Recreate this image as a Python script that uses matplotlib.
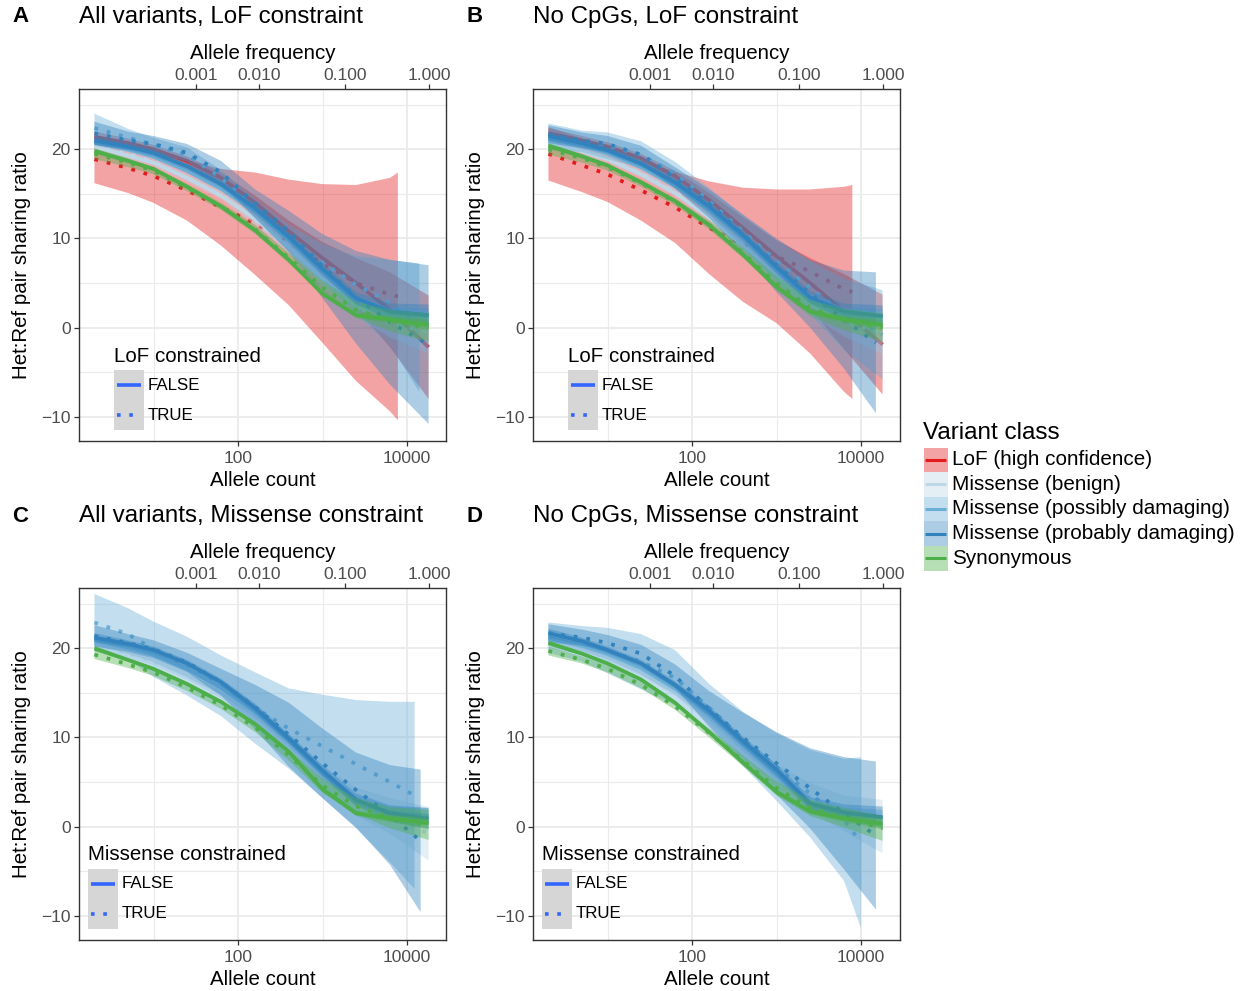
import numpy as np
import matplotlib
matplotlib.use("Agg")
import matplotlib.pyplot as plt
from matplotlib.patches import Rectangle
from matplotlib.ticker import NullFormatter, FixedLocator

plt.rcParams['font.family'] = ['Liberation Sans', 'DejaVu Sans']

W, H = 1245, 991

# ---------------- data ----------------
ALLELE_COUNT = [2, 5, 10, 25, 63, 160, 400, 1000, 2500, 6300, 18000]
FREQ_TICK_AC = [31.6, 179, 1845, 18360]
FREQ_LABELS = ['0.001', '0.010', '0.100', '1.000']
COUNT_TICKS = [100, 10000]
COUNT_LABELS = ['100', '10000']
COUNT_MINOR = [10, 1000]
RATIO_TICKS = [-10, 0, 10, 20]
RATIO_LABELS = ['\u221210', '0', '10', '20']
RATIO_MINOR = [-5, 5, 15, 25]

CLASSES = ['LoF (high confidence)', 'Missense (benign)', 'Missense (possibly damaging)',
           'Missense (probably damaging)', 'Synonymous']
CLASS_COLORS = ['#E41A1C', '#BDD7E7', '#6BAED6', '#3182BD', '#4DAF4A']

# Panel A : All variants, LoF constraint
A_LOF_F = [21.4, 20.7, 20.0, 18.7, 16.8, 14.0, 10.8, 7.8, 5.0, 2.0, -2.2]
A_LOF_F_SE = [0.6, 0.5, 0.5, 0.5, 0.6, 0.8, 1.2, 1.8, 2.8, 4.2, 5.8]
A_LOF_T = [18.9, 17.9, 17.0, 15.4, 13.5, 11.65, 9.55, 7.2, 5.0, 3.7, 3.5]
A_LOF_T_SE = [2.7, 2.8, 3.0, 3.4, 4.3, 5.75, 7.05, 8.9, 11.0, 13.1, 13.9]
A_BEN_F = [20.3, 19.3, 18.5, 16.8, 14.8, 12.2, 9.0, 5.4, 2.4, 1.4, 1.1]
A_BEN_F_SE = [0.3, 0.25, 0.2, 0.2, 0.2, 0.2, 0.2, 0.3, 0.3, 0.4, 0.6]
A_BEN_T = [20.4, 19.5, 18.6, 16.8, 14.9, 12.1, 8.9, 5.5, 2.4, 0.5, -0.5]
A_BEN_T_SE = [0.8, 0.6, 0.5, 0.5, 0.5, 0.6, 0.7, 0.9, 1.2, 1.6, 2.4]
A_POS_F = [20.8, 20.0, 19.2, 17.6, 15.6, 13.0, 9.8, 6.2, 3.0, 1.6, 1.3]
A_POS_F_SE = [0.4, 0.3, 0.3, 0.3, 0.3, 0.3, 0.3, 0.4, 0.5, 0.6, 0.9]
A_POS_T = [22.4, 21.3, 20.5, 19.4, 16.8, 13.3, 10.0, 7.3, 4.8, 2.8, 0.0]
A_POS_T_SE = [1.6, 1.0, 0.8, 0.8, 0.9, 1.1, 1.5, 2.1, 3.2, 4.8, 7.2]
A_PRO_F = [21.0, 20.3, 19.6, 18.1, 16.1, 13.4, 10.2, 6.6, 3.3, 1.8, 1.4]
A_PRO_F_SE = [0.5, 0.4, 0.4, 0.4, 0.4, 0.5, 0.5, 0.6, 0.7, 0.9, 1.2]
A_PRO_T = [21.8, 21.0, 20.6, 19.6, 17.4, 13.9, 10.8, 6.9, 3.4, 0.6, -1.9]
A_PRO_T_SE = [1.3, 1.0, 0.9, 1.0, 1.3, 1.6, 2.3, 3.6, 5.2, 7.0, 8.9]
A_SYN_F = [19.8, 18.7, 17.8, 15.8, 13.6, 10.9, 7.6, 3.8, 1.4, 0.9, 0.3]
A_SYN_F_SE = [0.3, 0.2, 0.2, 0.2, 0.2, 0.2, 0.25, 0.3, 0.3, 0.4, 0.6]
A_SYN_T = [19.5, 18.5, 17.6, 15.7, 13.6, 11.0, 7.8, 4.5, 2.0, 0.8, 0.0]
A_SYN_T_SE = [0.6, 0.5, 0.4, 0.4, 0.4, 0.5, 0.6, 0.8, 0.9, 1.2, 1.6]
A_END = [18000, 7800, 18000, 18000, 18000, 14000, 18000, 18000, 18000, 18000]

# Panel B : No CpGs, LoF constraint
B_LOF_F = [21.8, 21.0, 20.3, 19.0, 17.0, 14.3, 11.2, 8.0, 5.0, 1.8, -1.9]
B_LOF_F_SE = [0.6, 0.5, 0.5, 0.5, 0.6, 0.8, 1.2, 1.8, 2.8, 4.2, 5.6]
B_LOF_T = [19.5, 18.2, 17.2, 15.4, 13.5, 11.2, 9.3, 8.0, 6.3, 4.3, 4.0]
B_LOF_T_SE = [3.0, 3.0, 3.1, 3.4, 4.0, 5.2, 6.4, 7.5, 9.2, 11.5, 12.0]
B_BEN_F = [20.8, 19.8, 18.9, 17.2, 15.1, 12.4, 9.2, 5.6, 2.5, 1.4, 1.0]
B_BEN_F_SE = [0.3, 0.25, 0.2, 0.2, 0.2, 0.2, 0.2, 0.3, 0.3, 0.4, 0.6]
B_BEN_T = [20.9, 19.9, 19.0, 17.3, 15.2, 12.4, 9.0, 5.6, 2.6, 0.6, -0.6]
B_BEN_T_SE = [0.8, 0.6, 0.5, 0.5, 0.5, 0.6, 0.7, 0.9, 1.2, 1.6, 2.4]
B_POS_F = [21.2, 20.4, 19.6, 18.0, 15.9, 13.2, 10.0, 6.4, 3.1, 1.6, 1.2]
B_POS_F_SE = [0.4, 0.3, 0.3, 0.3, 0.3, 0.3, 0.3, 0.4, 0.5, 0.6, 0.9]
B_POS_T = [21.4, 20.9, 20.4, 19.4, 17.3, 14.2, 10.8, 7.5, 4.5, 1.5, -0.8]
B_POS_T_SE = [1.5, 1.2, 1.5, 1.5, 1.3, 1.5, 1.8, 2.3, 3.0, 4.0, 5.0]
B_PRO_F = [21.5, 20.7, 19.9, 18.4, 16.3, 13.6, 10.4, 6.8, 3.4, 1.8, 1.3]
B_PRO_F_SE = [0.5, 0.4, 0.4, 0.4, 0.4, 0.5, 0.5, 0.6, 0.7, 0.9, 1.2]
B_PRO_T = [21.7, 21.0, 20.6, 19.4, 16.8, 13.9, 10.5, 7.0, 3.8, 0.9, -1.7]
B_PRO_T_SE = [1.0, 0.9, 0.9, 1.0, 1.2, 1.6, 2.2, 3.0, 3.8, 5.5, 7.9]
B_SYN_F = [20.4, 19.2, 18.2, 16.3, 14.2, 11.5, 8.2, 4.6, 1.8, 0.9, 0.3]
B_SYN_F_SE = [0.3, 0.2, 0.2, 0.2, 0.2, 0.2, 0.25, 0.3, 0.3, 0.4, 0.6]
B_SYN_T = [20.0, 19.0, 18.0, 16.2, 14.1, 11.5, 8.4, 5.0, 2.2, 0.9, 0.0]
B_SYN_T_SE = [0.6, 0.5, 0.4, 0.4, 0.4, 0.5, 0.6, 0.8, 0.9, 1.2, 1.6]
B_END = [18000, 7900, 18000, 18000, 18000, 18000, 18000, 15000, 18000, 18000]

# Panel C : All variants, Missense constraint
C_BEN_F = [20.6, 19.6, 18.7, 17.0, 15.0, 12.5, 9.3, 5.6, 2.6, 1.6, 1.2]
C_BEN_F_SE = [0.3, 0.25, 0.2, 0.2, 0.2, 0.2, 0.2, 0.3, 0.3, 0.4, 0.6]
C_BEN_T = [20.5, 19.5, 18.6, 17.0, 15.0, 12.5, 9.3, 5.5, 2.8, 1.2, -0.8]
C_BEN_T_SE = [0.8, 0.6, 0.5, 0.5, 0.6, 0.8, 1.0, 1.3, 1.6, 2.0, 3.0]
C_POS_F = [21.0, 20.1, 19.3, 17.7, 15.6, 12.9, 9.6, 6.0, 2.9, 1.6, 1.2]
C_POS_F_SE = [0.4, 0.3, 0.3, 0.3, 0.3, 0.3, 0.3, 0.4, 0.5, 0.6, 0.9]
C_POS_T = [22.9, 21.6, 19.9, 18.0, 15.8, 13.3, 11.0, 9.0, 7.0, 5.0, 3.5]
C_POS_T_SE = [3.2, 2.9, 3.1, 3.3, 3.4, 4.0, 4.5, 5.8, 7.2, 9.0, 10.5]
C_PRO_F = [21.2, 20.5, 19.8, 18.3, 16.2, 13.3, 9.9, 6.3, 3.0, 1.5, 0.9]
C_PRO_F_SE = [0.5, 0.4, 0.4, 0.4, 0.4, 0.5, 0.5, 0.6, 0.7, 0.9, 1.2]
C_PRO_T = [21.4, 20.6, 19.9, 18.4, 16.2, 13.4, 10.3, 7.1, 4.1, 1.3, -1.6]
C_PRO_T_SE = [1.2, 1.0, 1.0, 1.1, 1.5, 2.5, 3.6, 3.9, 4.2, 5.6, 8.0]
C_SYN_F = [20.0, 18.7, 17.7, 16.0, 14.0, 11.5, 8.4, 4.2, 1.5, 0.9, 0.4]
C_SYN_F_SE = [0.3, 0.2, 0.2, 0.2, 0.2, 0.2, 0.25, 0.3, 0.3, 0.4, 0.6]
C_SYN_T = [19.3, 18.2, 17.3, 15.6, 13.6, 11.1, 8.0, 4.6, 2.3, 1.0, 0.2]
C_SYN_T_SE = [0.5, 0.4, 0.4, 0.4, 0.4, 0.5, 0.6, 0.8, 0.9, 1.2, 1.7]
C_END = [18000, 18000, 18000, 12300, 18000, 14500, 18000, 18000]

# Panel D : No CpGs, Missense constraint
D_BEN_F = [20.9, 19.9, 19.0, 17.3, 15.1, 12.2, 8.8, 5.5, 2.2, 1.4, 1.0]
D_BEN_F_SE = [0.3, 0.25, 0.2, 0.2, 0.2, 0.2, 0.2, 0.3, 0.3, 0.4, 0.6]
D_BEN_T = [20.8, 19.9, 19.0, 17.4, 15.3, 12.3, 8.7, 5.75, 3.3, 1.5, 0.0]
D_BEN_T_SE = [0.8, 0.6, 0.5, 0.5, 0.6, 0.8, 1.0, 1.3, 1.6, 2.0, 3.0]
D_POS_F = [21.2, 20.3, 19.4, 17.8, 15.5, 12.6, 9.2, 5.9, 2.4, 1.5, 1.0]
D_POS_F_SE = [0.4, 0.3, 0.3, 0.3, 0.3, 0.3, 0.3, 0.4, 0.5, 0.6, 0.9]
D_POS_T = [21.2, 20.5, 19.75, 18.5, 16.7, 13.35, 9.85, 6.7, 3.7, 0.75, -1.8]
D_POS_T_SE = [1.7, 2.0, 2.55, 3.1, 3.1, 2.65, 3.05, 3.8, 4.9, 6.85, 9.6]
D_PRO_F = [21.7, 20.8, 19.8, 18.3, 15.9, 13.0, 9.6, 6.4, 2.6, 1.6, 1.05]
D_PRO_F_SE = [0.5, 0.4, 0.4, 0.4, 0.4, 0.5, 0.5, 0.6, 0.7, 0.9, 1.2]
D_PRO_T = [21.7, 21.2, 20.6, 19.4, 16.9, 13.2, 10.0, 7.1, 4.3, 1.5, -1.0]
D_PRO_T_SE = [1.0, 0.9, 0.9, 1.0, 1.3, 2.0, 2.8, 3.5, 4.5, 6.3, 8.3]
D_SYN_F = [20.6, 19.4, 18.3, 16.5, 13.9, 10.6, 7.2, 3.9, 1.7, 0.9, 0.3]
D_SYN_F_SE = [0.3, 0.2, 0.2, 0.2, 0.2, 0.2, 0.25, 0.3, 0.3, 0.4, 0.6]
D_SYN_T = [19.7, 18.7, 17.7, 15.9, 13.5, 10.5, 7.4, 4.3, 2.1, 1.0, -0.2]
D_SYN_T_SE = [0.5, 0.4, 0.4, 0.4, 0.4, 0.5, 0.6, 0.8, 0.9, 1.1, 1.4]
D_END = [18000, 18000, 18000, 10000, 18000, 15000, 18000, 18000]

PANEL_LETTERS = ['A', 'B', 'C', 'D']
PANEL_TITLES = ['All variants, LoF constraint', 'No CpGs, LoF constraint',
                'All variants, Missense constraint', 'No CpGs, Missense constraint']
LEGEND_TITLES = ['LoF constrained', 'LoF constrained',
                 'Missense constrained', 'Missense constrained']
CONSTRAINED_LEVELS = ['FALSE', 'TRUE']

# ---------------- build series ----------------
def series_list(means, ses, ends, classes):
    out = []
    for i, (m, s) in enumerate(zip(means, ses)):
        out.append((classes[i // 2], i % 2 == 1, m, s, ends[i]))
    return out

PANEL_SERIES = [
    series_list([A_LOF_F, A_LOF_T, A_BEN_F, A_BEN_T, A_POS_F, A_POS_T, A_PRO_F, A_PRO_T, A_SYN_F, A_SYN_T],
                [A_LOF_F_SE, A_LOF_T_SE, A_BEN_F_SE, A_BEN_T_SE, A_POS_F_SE, A_POS_T_SE, A_PRO_F_SE, A_PRO_T_SE, A_SYN_F_SE, A_SYN_T_SE],
                A_END, [0, 1, 2, 3, 4]),
    series_list([B_LOF_F, B_LOF_T, B_BEN_F, B_BEN_T, B_POS_F, B_POS_T, B_PRO_F, B_PRO_T, B_SYN_F, B_SYN_T],
                [B_LOF_F_SE, B_LOF_T_SE, B_BEN_F_SE, B_BEN_T_SE, B_POS_F_SE, B_POS_T_SE, B_PRO_F_SE, B_PRO_T_SE, B_SYN_F_SE, B_SYN_T_SE],
                B_END, [0, 1, 2, 3, 4]),
    series_list([C_BEN_F, C_BEN_T, C_POS_F, C_POS_T, C_PRO_F, C_PRO_T, C_SYN_F, C_SYN_T],
                [C_BEN_F_SE, C_BEN_T_SE, C_POS_F_SE, C_POS_T_SE, C_PRO_F_SE, C_PRO_T_SE, C_SYN_F_SE, C_SYN_T_SE],
                C_END, [1, 2, 3, 4]),
    series_list([D_BEN_F, D_BEN_T, D_POS_F, D_POS_T, D_PRO_F, D_PRO_T, D_SYN_F, D_SYN_T],
                [D_BEN_F_SE, D_BEN_T_SE, D_POS_F_SE, D_POS_T_SE, D_PRO_F_SE, D_PRO_T_SE, D_SYN_F_SE, D_SYN_T_SE],
                D_END, [1, 2, 3, 4]),
]

# ---------------- layout (pixels) ----------------
PANEL_BOXES = [(79, 89, 446, 441), (533, 89, 900, 441), (79, 588, 446, 940), (533, 588, 900, 940)]
XLIM = (1.313, 28940)
YLIM = (-12.72, 26.77)
DOT = (0, (1, 2.4))
TICK_GREY = '#4D4D4D'
GRID = '#EBEBEB'

fig = plt.figure(figsize=(W / 100, H / 100), dpi=100)
fig.patch.set_facecolor('white')


def px_axes(box):
    x0, y0, x1, y1 = box
    return fig.add_axes([x0 / W, 1 - y1 / H, (x1 - x0) / W, (y1 - y0) / H])


for p in range(4):
    ax = px_axes(PANEL_BOXES[p])
    ax.set_xscale('log')
    ax.set_xlim(*XLIM)
    ax.set_ylim(*YLIM)
    ax.set_facecolor('white')
    for v in COUNT_TICKS:
        ax.axvline(v, color=GRID, lw=1.3, zorder=0)
    for v in COUNT_MINOR:
        ax.axvline(v, color=GRID, lw=0.8, zorder=0)
    for v in RATIO_TICKS:
        ax.axhline(v, color=GRID, lw=1.3, zorder=0)
    for v in RATIO_MINOR:
        ax.axhline(v, color=GRID, lw=0.8, zorder=0)

    for cls, constrained, mean, se, end in PANEL_SERIES[p]:
        x = ALLELE_COUNT[:-1] + [end]
        m = np.array(mean, dtype=float)
        s = np.array(se, dtype=float)
        col = CLASS_COLORS[cls]
        ax.fill_between(x, m - s, m + s, facecolor=col, alpha=0.4, linewidth=0, zorder=2)
        ax.plot(x, m, color=col, lw=2.7, ls=DOT if constrained else '-',
                solid_capstyle='butt', dash_capstyle='butt', solid_joinstyle='round', zorder=2)

    ax.xaxis.set_major_locator(FixedLocator(COUNT_TICKS))
    ax.xaxis.set_minor_locator(FixedLocator([]))
    ax.xaxis.set_minor_formatter(NullFormatter())
    ax.set_xticklabels(COUNT_LABELS)
    ax.set_yticks(RATIO_TICKS)
    ax.set_yticklabels(RATIO_LABELS)
    ax.tick_params(axis='x', which='major', length=3.5, width=0.9, color='#333333',
                   labelcolor=TICK_GREY, labelsize=12.5, pad=3.8)
    ax.tick_params(axis='y', which='major', length=3.5, width=0.9, color='#333333',
                   labelcolor=TICK_GREY, labelsize=12.5, pad=2.5)
    ax.set_xlabel('Allele count', fontsize=14.8, labelpad=3.5)
    ax.set_ylabel('Het:Ref pair sharing ratio', fontsize=14.8, labelpad=7.5)
    for sp in ax.spines.values():
        sp.set_color('#333333')
        sp.set_linewidth(1.0)

    top = ax.twiny()
    top.set_xscale('log')
    top.set_xlim(*XLIM)
    top.xaxis.set_major_locator(FixedLocator(FREQ_TICK_AC))
    top.xaxis.set_minor_locator(FixedLocator([]))
    top.xaxis.set_minor_formatter(NullFormatter())
    top.set_xticklabels(FREQ_LABELS)
    top.tick_params(axis='x', which='major', length=3.5, width=0.9, color='#333333',
                    labelcolor=TICK_GREY, labelsize=12.5, pad=0.5)
    top.set_xlabel('Allele frequency', fontsize=14.8, labelpad=6.8)
    for sp in top.spines.values():
        sp.set_visible(False)

# overlay in pixel coordinates for titles and legends
ov = fig.add_axes([0, 0, 1, 1], zorder=10)
ov.set_xlim(0, W)
ov.set_ylim(H, 0)
ov.axis('off')

letter_pos = [(12, 17), (466, 17), (12, 516), (466, 516)]
for p in range(4):
    x0, y0, x1, y1 = PANEL_BOXES[p]
    lx, ly = letter_pos[p]
    ov.text(lx, ly, PANEL_LETTERS[p], fontsize=16, fontweight='bold', ha='left', va='center')
    ov.text(x0, ly, PANEL_TITLES[p], fontsize=17.4, ha='left', va='center')

    lg_left = x0 + (35 if p < 2 else 9)
    ov.text(lg_left, y0 + 267, LEGEND_TITLES[p], fontsize=14.8, ha='left', va='center')
    ov.add_patch(Rectangle((lg_left, y0 + 281), 30, 60, facecolor='#D6D6D6', edgecolor='none'))
    ov.plot([lg_left + 3, lg_left + 27], [y0 + 296, y0 + 296], color='#3366FF', lw=2.6,
            solid_capstyle='butt')
    ov.plot([lg_left + 3, lg_left + 27], [y0 + 326, y0 + 326], color='#3366FF', lw=2.6,
            ls=DOT, dash_capstyle='butt')
    ov.text(lg_left + 34, y0 + 296, CONSTRAINED_LEVELS[0], fontsize=12.2, ha='left', va='center')
    ov.text(lg_left + 34, y0 + 326, CONSTRAINED_LEVELS[1], fontsize=12.2, ha='left', va='center')

# right legend
ov.text(923, 433, 'Variant class', fontsize=17.5, ha='left', va='center')
for i, name in enumerate(CLASSES):
    top_y = 447.5 + i * 24.6
    ov.add_patch(Rectangle((923.5, top_y), 24.4, 24.6, facecolor=CLASS_COLORS[i], alpha=0.4,
                           edgecolor='none'))
    ov.plot([925, 946], [top_y + 12.3, top_y + 12.3], color=CLASS_COLORS[i], lw=2.2,
            solid_capstyle='butt')
    ov.text(952.5, top_y + 12.3, name, fontsize=14.9, ha='left', va='center')

fig.savefig('out.png', dpi=100, facecolor='white')
